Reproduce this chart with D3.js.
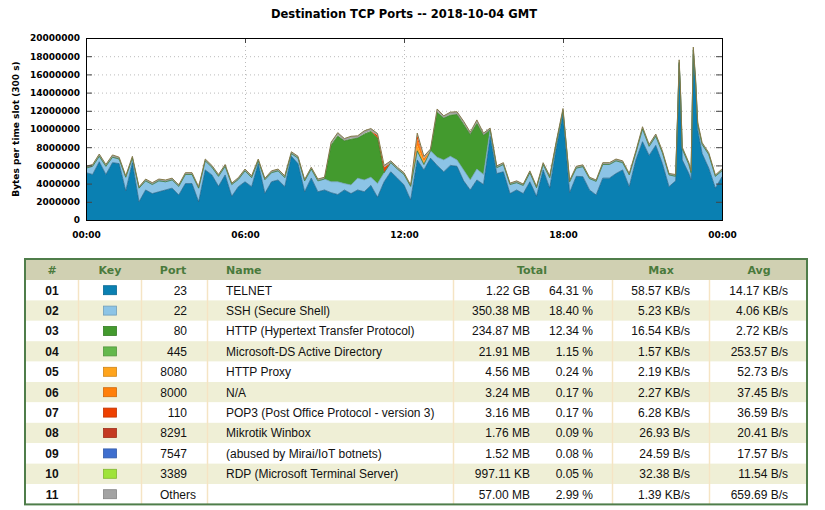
<!DOCTYPE html>
<html>
<head>
<meta charset="utf-8">
<script src="https://cdn.jsdelivr.net/npm/d3@7"></script>
<style>
body { margin: 0; background: #fff; }
svg { display: block; }
</style>
</head>
<body>
<svg id="chart" width="825" height="510"></svg>
<script>
// time of each sample, minutes after 00:00 GMT
const minutes = [
    0, 15, 30, 45, 60, 75, 90, 105, 120, 135,
    150, 165, 180, 195, 210, 225, 240, 255, 270, 285,
    300, 315, 330, 345, 360, 375, 390, 405, 420, 435,
    450, 465, 480, 495, 510, 525, 540, 555, 570, 585,
    600, 615, 630, 645, 660, 675, 690, 705, 720, 735,
    750, 765, 780, 795, 810, 825, 840, 855, 870, 885,
    900, 915, 930, 945, 960, 975, 990, 1005, 1020, 1035,
    1050, 1065, 1080, 1095, 1110, 1125, 1140, 1155, 1170, 1185,
    1200, 1215, 1230, 1245, 1260, 1275, 1290, 1305, 1320, 1335,
    1340, 1343, 1346, 1350, 1365, 1370, 1375, 1380, 1385, 1395,
    1410, 1425, 1440
];

// bytes per slot, millions
const telnet = [
    5.2, 5.0, 6.4, 5.0, 6.3, 6.2, 3.2, 6.3, 2.0, 3.3,
    2.9, 3.1, 3.3, 3.5, 2.75, 4.0, 4.0, 2.0, 5.5, 4.95,
    3.7, 4.95, 2.6, 3.66, 4.2, 3.66, 6.2, 2.93, 4.2, 4.4,
    3.66, 7.0, 6.2, 3.1, 4.6, 3.1, 3.3, 3.0, 2.8, 3.3,
    2.9, 3.3, 3.1, 3.8, 2.5, 4.2, 5.3, 4.6, 3.85, 2.2,
    6.6, 5.5, 6.8, 6.0, 5.3, 6.0, 5.9, 4.3, 3.3, 4.4,
    3.9, 9.2, 5.1, 5.3, 2.9, 3.3, 2.9, 4.2, 2.6, 5.5,
    3.5, 8.0, 11.6, 3.0, 4.8, 4.76, 3.3, 2.75, 4.6, 4.6,
    5.1, 5.5, 3.66, 6.6, 8.6, 7.1, 8.2, 6.2, 3.66, 4.3,
    11.9, 17.1, 13.9, 6.6, 5.1, 4.4, 18.2, 15.2, 9.9, 7.3,
    5.7, 3.5, 4.76
];

const ssh = [
    0.5, 0.9, 0.6, 0.9, 0.6, 0.5, 1.5, 0.5, 1.5, 1.0,
    1.0, 1.2, 0.9, 0.9, 0.95, 1.0, 1.0, 1.5, 1.0, 0.85,
    1.1, 0.95, 1.3, 0.8, 1.2, 1.0, 0.3, 1.5, 1.0, 1.0,
    1.0, 0.3, 0.6, 1.2, 1.0, 1.2, 1.2, 1.2, 1.4, 0.7,
    0.95, 1.3, 1.3, 0.9, 1.5, 1.0, 1.0, 1.0, 1.15, 1.5,
    1.0, 0.6, 0.8, 0.9, 1.3, 1.0, 0.7, 1.2, 1.1, 1.2,
    1.1, 0.7, 0.65, 0.8, 1.0, 0.8, 0.9, 1.0, 0.95, 0.6,
    1.15, 0.5, 0.4, 1.2, 0.9, 1.1, 1.25, 1.5, 1.5, 1.5,
    1.4, 0.8, 1.3, 0.8, 1.4, 1.0, 1.0, 1.2, 1.3, 0.5,
    0.3, 0.2, 0.2, 1.2, 1.0, 0.8, 0.5, 0.2, 0.6, 1.0,
    1.5, 1.3, 0.65
];

const others = [
    0.2, 0.2, 0.25, 0.2, 0.25, 0.2, 0.15, 0.2, 0.15, 0.2,
    0.2, 0.2, 0.2, 0.2, 0.15, 0.2, 0.2, 0.15, 0.2, 0.2,
    0.2, 0.2, 0.15, 0.2, 0.2, 0.2, 0.2, 0.15, 0.2, 0.2,
    0.2, 0.2, 0.2, 0.15, 0.2, 0.2, 0.2, 0.25, 0.3, 0.25,
    0.25, 0.25, 0.3, 0.25, 0.2, 0.2, 0.2, 0.2, 0.2, 0.15,
    0.25, 0.2, 0.2, 0.3, 0.25, 0.25, 0.3, 0.25, 0.25, 0.3,
    0.25, 0.2, 0.2, 0.2, 0.15, 0.2, 0.15, 0.2, 0.15, 0.2,
    0.2, 0.2, 0.25, 0.15, 0.2, 0.2, 0.15, 0.15, 0.2, 0.2,
    0.2, 0.2, 0.15, 0.2, 0.25, 0.2, 0.25, 0.2, 0.15, 0.2,
    0.25, 0.3, 0.25, 0.2, 0.2, 0.2, 0.3, 0.3, 0.25, 0.2,
    0.2, 0.15, 0.2
];

// sparse series: [minute, millions of bytes], absent minutes are zero
const http = [[540, 0], [555, 4.0], [570, 5.0], [585, 4.7], [600, 5.0], [615, 4.4], [630, 5.0], [645, 5.0], [660, 5.0], [675, 0],
              [780, 0], [795, 4.9], [810, 4.6], [825, 4.5], [840, 5.0], [855, 5.0], [870, 5.0], [885, 5.0], [900, 4.3], [915, 0]];
const msds = [[555, 0.1], [570, 0.1], [600, 0.1], [630, 0.1], [645, 0.1], [795, 0.1], [825, 0.1], [855, 0.1], [885, 0.1]];
const proxy = [[750, 0.6], [765, 0.3]];
const na8000 = [[750, 0.7], [765, 0.4]];
const pop3 = [[660, 0.3], [675, 0.6], [750, 0.4]];
const winbox = [];
const mirai = [];
const rdp = [];

const yTicks = [0, 2e6, 4e6, 6e6, 8e6, 10e6, 12e6, 14e6, 16e6, 18e6, 20e6];
const xTicks = [0, 360, 720, 1080, 1440];

// table
const rowNums = ["01", "02", "03", "04", "05", "06", "07", "08", "09", "10", "11"];
const ports = ["23", "22", "80", "445", "8080", "8000", "110", "8291", "7547", "3389", "Others"];
const portNames = ["TELNET", "SSH (Secure Shell)", "HTTP (Hypertext Transfer Protocol)", "Microsoft-DS Active Directory",
    "HTTP Proxy", "N/A", "POP3 (Post Office Protocol - version 3)", "Mikrotik Winbox", "(abused by Mirai/IoT botnets)",
    "RDP (Microsoft Terminal Server)", ""];
const totals = ["1.22 GB", "350.38 MB", "234.87 MB", "21.91 MB", "4.56 MB", "3.24 MB", "3.16 MB", "1.76 MB", "1.52 MB", "997.11 KB", "57.00 MB"];
const percents = ["64.31 %", "18.40 %", "12.34 %", "1.15 %", "0.24 %", "0.17 %", "0.17 %", "0.09 %", "0.08 %", "0.05 %", "2.99 %"];
const maxRates = ["58.57 KB/s", "5.23 KB/s", "16.54 KB/s", "1.57 KB/s", "2.19 KB/s", "2.27 KB/s", "6.28 KB/s", "26.93 B/s", "24.59 B/s", "32.38 B/s", "1.39 KB/s"];
const avgRates = ["14.17 KB/s", "4.06 KB/s", "2.72 KB/s", "253.57 B/s", "52.73 B/s", "37.45 B/s", "36.59 B/s", "20.41 B/s", "17.57 B/s", "11.54 B/s", "659.69 B/s"];

const keys = ["telnet", "ssh", "http", "msds", "proxy", "na8000", "pop3", "winbox", "mirai", "rdp", "others"];
const colors = ["#0a80b2", "#8cc4e6", "#439a2e", "#64b84c", "#ffa41c", "#ff7f0a", "#ee4000", "#c43a22", "#3f6fcf", "#9fe33a", "#a3a3a3"];
// outline drawn on top of a few layers
const edges = { telnet: "#1a5d82", ssh: "#6f9fbf", http: "#3a7a28", others: "#857a4a" };

const fromPairs = pairs => {
    const m = new Map(pairs);
    return minutes.map(t => m.has(t) ? m.get(t) : 0);
};
const series = {
    telnet, ssh, others,
    http: fromPairs(http), msds: fromPairs(msds), proxy: fromPairs(proxy), na8000: fromPairs(na8000),
    pop3: fromPairs(pop3), winbox: fromPairs(winbox), mirai: fromPairs(mirai), rdp: fromPairs(rdp)
};
const table = minutes.map((t, i) => {
    const row = { t };
    keys.forEach(k => row[k] = series[k][i] * 1e6);
    return row;
});

const svg = d3.select("#chart");
const font = "'DejaVu Sans', sans-serif";
const plot = { left: 86, right: 722, top: 38, bottom: 220 };

svg.append("text")
    .attr("x", 404).attr("y", 18)
    .attr("text-anchor", "middle")
    .style("font", "bold 11.5px " + font)
    .text("Destination TCP Ports -- 2018-10-04 GMT");

const x = d3.scaleLinear().domain([0, 1440]).range([plot.left, plot.right]);
const y = d3.scaleLinear().domain([0, 20e6]).range([plot.bottom, plot.top]);

// grid
svg.append("g").selectAll("line").data(yTicks.slice(1, -1)).enter().append("line")
    .attr("x1", plot.left).attr("x2", plot.right)
    .attr("y1", d => y(d) + 0.5).attr("y2", d => y(d) + 0.5)
    .attr("stroke", "#aaa").attr("stroke-width", 0.8).attr("stroke-dasharray", "1,3");
svg.append("g").selectAll("line").data(xTicks.slice(1, -1)).enter().append("line")
    .attr("x1", d => x(d) + 0.5).attr("x2", d => x(d) + 0.5)
    .attr("y1", plot.top).attr("y2", plot.bottom)
    .attr("stroke", "#aaa").attr("stroke-width", 0.8).attr("stroke-dasharray", "1,3");

const stacked = d3.stack().keys(keys)(table);
const area = d3.area().x(d => x(d.data.t)).y0(d => y(d[0])).y1(d => y(d[1]));
const topLine = d3.line().x(d => x(d.data.t)).y(d => y(d[1]));

svg.append("g").selectAll("path").data(stacked).enter().append("path")
    .attr("d", area)
    .attr("fill", (d, i) => colors[i]);
svg.append("g").selectAll("path").data(stacked.filter(s => edges[s.key])).enter().append("path")
    .attr("d", topLine)
    .attr("fill", "none")
    .attr("stroke", d => edges[d.key])
    .attr("stroke-width", d => d.key === "others" ? 1 : 0.7);

// axes
svg.append("g")
    .attr("transform", `translate(${plot.left},0)`)
    .call(d3.axisLeft(y).tickValues(yTicks).tickSize(0).tickPadding(6).tickFormat(d3.format("d")))
    .call(g => g.select(".domain").remove())
    .selectAll("text").style("font", "bold 9px " + font).attr("fill", "#000");
svg.append("g")
    .attr("transform", `translate(0,${plot.bottom})`)
    .call(d3.axisBottom(x).tickValues(xTicks).tickSize(0).tickPadding(12)
        .tickFormat(d => String(Math.floor(d / 60) % 24).padStart(2, "0") + ":00"))
    .call(g => g.select(".domain").remove())
    .selectAll("text").style("font", "bold 9px " + font).attr("fill", "#000");

// inner tick marks
const ticks = svg.append("g").attr("stroke", "#444").attr("stroke-width", 1);
yTicks.slice(1, -1).forEach(v => {
    ticks.append("line").attr("x1", plot.left).attr("x2", plot.left + 6).attr("y1", y(v) + 0.5).attr("y2", y(v) + 0.5);
    ticks.append("line").attr("x1", plot.right - 6).attr("x2", plot.right).attr("y1", y(v) + 0.5).attr("y2", y(v) + 0.5);
});
xTicks.slice(1, -1).forEach(v => {
    ticks.append("line").attr("x1", x(v) + 0.5).attr("x2", x(v) + 0.5).attr("y1", plot.top).attr("y2", plot.top + 5);
});

svg.append("rect")
    .attr("x", plot.left + 0.5).attr("y", plot.top + 0.5)
    .attr("width", plot.right - plot.left).attr("height", plot.bottom - plot.top)
    .attr("fill", "none").attr("stroke", "#000").attr("stroke-width", 1);

svg.append("text")
    .attr("transform", `translate(19,${(plot.top + plot.bottom) / 2}) rotate(-90)`)
    .attr("text-anchor", "middle")
    .style("font", "bold 9px " + font)
    .text("Bytes per time slot (300 s)");

// ---- table ----
const tb = { left: 25, right: 807, top: 259, headH: 21, rowH: 20.4 };
const bodyTop = tb.top + tb.headH;
const tg = svg.append("g");
const colLines = [78, 141, 207, 453, 612, 709];

tg.append("rect").attr("x", tb.left).attr("y", tb.top).attr("width", tb.right - tb.left).attr("height", tb.headH)
    .attr("fill", "#d0d0b2");
rowNums.forEach((r, i) => {
    tg.append("rect").attr("x", tb.left).attr("y", bodyTop + i * tb.rowH)
        .attr("width", tb.right - tb.left).attr("height", tb.rowH)
        .attr("fill", i % 2 ? "#efefd6" : "#ffffff");
});
colLines.forEach(cx => {
    tg.append("line").attr("x1", cx + 0.5).attr("x2", cx + 0.5)
        .attr("y1", bodyTop).attr("y2", bodyTop + rowNums.length * tb.rowH)
        .attr("stroke", "#f5e4c4").attr("stroke-width", 1.5);
});

const heads = [["#", 52, "middle"], ["Key", 110, "middle"], ["Port", 173, "middle"], ["Name", 226, "start"],
               ["Total", 532, "middle"], ["Max", 661, "middle"], ["Avg", 759, "middle"]];
heads.forEach(h => {
    tg.append("text").attr("x", h[1]).attr("y", tb.top + 15).attr("text-anchor", h[2])
        .style("font", "bold 11px " + font).attr("fill", "#4a7a3c").text(h[0]);
});

const cellFont = "12px 'Liberation Sans', Arial, sans-serif";
rowNums.forEach((r, i) => {
    const cy = bodyTop + i * tb.rowH + tb.rowH / 2 + 4.3;
    const cell = (txt, cx, anchor, bold) => tg.append("text").attr("x", cx).attr("y", cy)
        .attr("text-anchor", anchor)
        .style("font", (bold ? "bold " : "") + cellFont).attr("fill", "#111").text(txt);
    cell(r, 52, "middle", true);
    const c = colors[i];
    tg.append("rect").attr("x", 103.5).attr("y", bodyTop + i * tb.rowH + tb.rowH / 2 - 4.5)
        .attr("width", 13).attr("height", 9)
        .attr("fill", c).attr("stroke", d3.color(c).darker(0.6)).attr("stroke-width", 0.8);
    if (ports[i] === "Others") cell(ports[i], 160, "start");
    else cell(ports[i], 187, "end");
    cell(portNames[i], 226, "start");
    cell(totals[i], 530, "end");
    cell(percents[i], 593, "end");
    cell(maxRates[i], 690, "end");
    cell(avgRates[i], 788, "end");
});

tg.append("rect").attr("x", tb.left).attr("y", tb.top)
    .attr("width", tb.right - tb.left).attr("height", tb.headH + rowNums.length * tb.rowH)
    .attr("fill", "none").attr("stroke", "#4f7d4a").attr("stroke-width", 2);
</script>
</body>
</html>
